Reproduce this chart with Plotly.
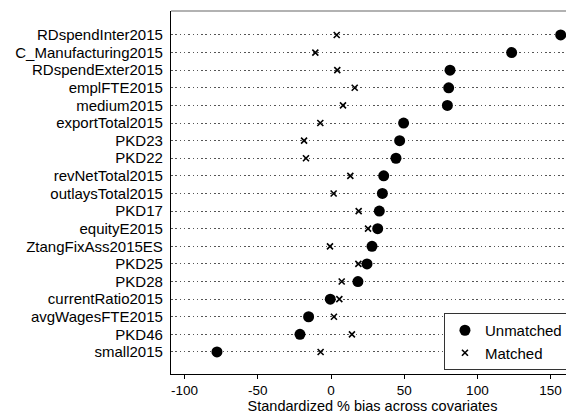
import plotly.graph_objects as go

variables = ["RDspendInter2015", "C_Manufacturing2015", "RDspendExter2015", "emplFTE2015",
             "medium2015", "exportTotal2015", "PKD23", "PKD22", "revNetTotal2015",
             "outlaysTotal2015", "PKD17", "equityE2015", "ZtangFixAss2015ES", "PKD25",
             "PKD28", "currentRatio2015", "avgWagesFTE2015", "PKD46", "small2015"]
unmatched = [156.9, 123.4, 81.3, 80.4, 79.5, 49.6, 46.9, 44.4, 36.0, 35.1,
             33.0, 31.9, 28.0, 24.6, 18.4, -0.5, -15.3, -21.2, -77.9]
matched = [3.9, -10.7, 4.3, 16.2, 8.2, -7.3, -18.4, -17.1, 13.2, 1.8,
           18.9, 25.3, -0.7, 18.7, 7.3, 5.7, 2.0, 14.3, -7.1]
x_ticks = [-100, -50, 0, 50, 100, 150]
x_tick_labels = ["-100", "-50", "0", "50", "100", "150"]

pos = list(range(1, len(variables) + 1))
font = "Liberation Sans, Arial, sans-serif"

fig = go.Figure()
fig.add_trace(go.Scatter(x=unmatched, y=pos, mode="markers", name="Unmatched",
                         marker=dict(symbol="circle", size=11, color="black")))
fig.add_trace(go.Scatter(x=matched, y=pos, mode="markers", name="Matched",
                         marker=dict(symbol="x-thin", size=6, color="black",
                                     line=dict(width=1.6, color="black"))))

fig.add_vline(x=0, line=dict(color="#999999", width=1.5), layer="below")

# The page body has an 8px margin; figure is sized to fit the 574x415 window.
fig.update_layout(
    width=566, height=407,
    margin=dict(l=163, r=0, t=3, b=41),
    paper_bgcolor="white", plot_bgcolor="white",
    font=dict(family=font, size=15, color="black"),
    showlegend=True,
    legend=dict(x=0.985, y=0.011, xanchor="right", yanchor="bottom",
                bgcolor="white", bordercolor="#333333", borderwidth=1,
                font=dict(size=15, family=font), itemwidth=30,
                tracegroupgap=0),
    xaxis=dict(range=[-109.3, 166], tickvals=x_ticks, ticktext=x_tick_labels,
               ticks="outside", ticklen=4,
               tickcolor="black", showline=True, linecolor="black", linewidth=1.2,
               showgrid=False, zeroline=False,
               tickfont=dict(size=13.5),
               title=dict(text="Standardized % bias across covariates",
                          font=dict(size=14.5), standoff=3)),
    yaxis=dict(range=[19 + 1.25, 1 - 1.36], tickvals=pos, ticktext=variables,
               showline=True, linecolor="black", linewidth=1.2,
               showgrid=True, gridcolor="#555555", griddash="1.5px,2.8px", gridwidth=1.3,
               zeroline=False, ticks="", ticklabelstandoff=4,
               tickfont=dict(size=15)),
    shapes=[dict(type="line", xref="paper", yref="paper", x0=0, x1=1, y0=1, y1=1,
                 line=dict(color="#999999", width=1.5))],
)

fig.write_html("out.html")
